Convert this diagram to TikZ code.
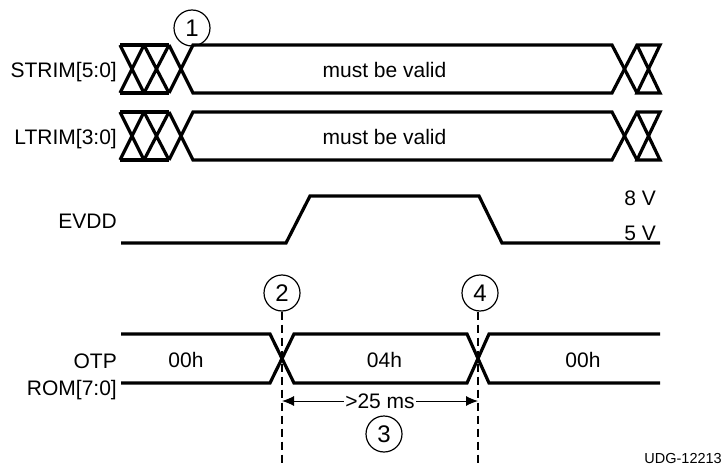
\documentclass[tikz,border=0pt]{standalone}
\usepackage{fontspec}
\setmainfont{Liberation Sans}
\usetikzlibrary{arrows.meta}
\begin{document}
\begin{tikzpicture}[x=1pt,y=-1pt,
  sig/.style={line width=3.2pt,line join=miter},
  lbl/.style={font=\fontsize{21}{24}\selectfont,inner sep=0pt},
  num/.style={circle,draw,line width=1.2pt,minimum size=36pt,inner sep=0pt,font=\fontsize{24}{26}\selectfont},
  markline/.style={line width=1.6pt,dash pattern=on 8pt off 5pt},
  small/.style={font=\fontsize{14.5}{16}\selectfont,inner sep=0pt}]
\useasboundingbox (0,0) rectangle (725,465);
% STRIM / LTRIM buses
\foreach \ya/\yb in {45/93, 112/160}{
  \draw[sig] (120,\ya) -- (169,\ya);
  \draw[sig] (120,\yb) -- (169,\yb);
  \draw[sig] (120,\ya) -- (144,\yb) (144,\ya) -- (120,\yb);
  \draw[sig] (144,\ya) -- (169,\yb) (169,\ya) -- (144,\yb);
  \draw[sig] (169,\ya) -- (193,\yb) -- (612,\yb) -- (637,\ya) -- (660,\ya) -- (637,\yb) -- (660,\yb) -- (637,\ya);
  \draw[sig] (169,\yb) -- (193,\ya) -- (612,\ya) -- (637,\yb);
}
\node[lbl,anchor=base east] (strim) at (117,77.5) {STRIM[5:0]};
\node[lbl,anchor=base east] (ltrim) at (117,144.5) {LTRIM[3:0]};
\node[lbl,anchor=base] (v1) at (384.5,78) {must be valid};
\node[lbl,anchor=base] (v2) at (384.5,145) {must be valid};
\node[num] (c1) at (192,28) {1};
% EVDD
\draw[sig] (121,243) -- (286,243) -- (310,196) -- (479,196) -- (502,243) -- (660,243);
\node[lbl,anchor=base east] (evdd) at (117,228) {EVDD};
\node[lbl,anchor=base east] (v8) at (656,205) {8 V};
\node[lbl,anchor=base east] (v5) at (656,240) {5 V};
% OTP
\draw[sig] (121,334) -- (270,334) -- (294,383) -- (467,383) -- (489,334) -- (660,334);
\draw[sig] (121,383) -- (270,383) -- (294,334) -- (467,334) -- (489,383) -- (660,383);
\node[lbl,anchor=base east] (otp) at (117,368) {OTP};
\node[lbl,anchor=base east] (rom) at (117,395) {ROM[7:0]};
\node[lbl,anchor=base] (d1) at (186,367) {00h};
\node[lbl,anchor=base] (d2) at (384.5,367) {04h};
\node[lbl,anchor=base] (d3) at (583,367) {00h};
\node[num] (c2) at (282,293) {2};
\node[num] (c4) at (480,293) {4};
\coordinate (e2) at (282,465);
\coordinate (e4) at (478,465);
\draw[markline] (c2.south -| e2) -- (e2);
\draw[markline] (c4.south -| e4) -- (e4);
\coordinate (a2) at (282,401);
\coordinate (a4) at (478,401);
\draw[line width=1pt,{Latex[length=12pt,width=10pt]}-{Latex[length=12pt,width=10pt]}] (a2) -- (a4)
  node[midway,lbl,fill=white,inner xsep=1pt,inner ysep=0pt] (t25) {>25 ms};
\node[num] (c3) at (384,434) {3};
\node[small,anchor=base east] (udg) at (722,463) {UDG-12213};
\end{tikzpicture}
\end{document}
